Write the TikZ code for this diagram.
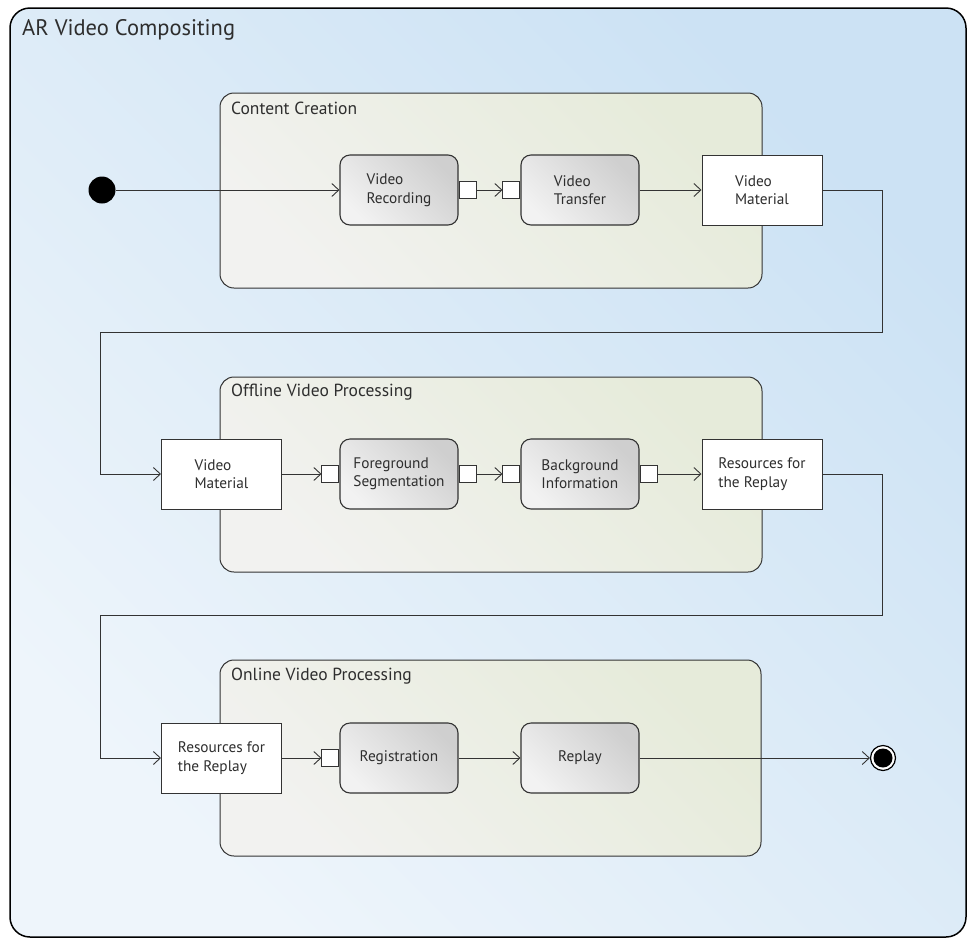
\documentclass[tikz,border=0pt]{standalone}
\usepackage{fontspec}
\setmainfont{PT Sans}
\usetikzlibrary{arrows.meta,positioning}
\definecolor{txt}{HTML}{2E2E2E}
\definecolor{frameA}{HTML}{CCE2F4}
\definecolor{frameB}{HTML}{EEF5FB}
\definecolor{grpA}{HTML}{E6EBDA}
\definecolor{grpB}{HTML}{F2F2F0}
\definecolor{actA}{HTML}{CFCFCF}
\definecolor{actB}{HTML}{F2F2F2}
\definecolor{ln}{HTML}{333333}
\begin{document}
\begin{tikzpicture}[x=1pt,y=-1pt,
  every node/.style={text=txt},
  frame/.style={draw=black, line width=1.5pt, rounded corners=20pt,
    top color=frameA, bottom color=frameB, shading angle=-45},
  grp/.style={draw=ln, line width=1pt, rounded corners=14pt,
    top color=grpA, bottom color=grpB, shading angle=-45},
  action/.style={draw=ln, line width=1.1pt, rounded corners=10pt,
    top color=actA, bottom color=actB, shading angle=-45,
    minimum width=118pt, minimum height=70pt, inner sep=0pt,
    align=left, font=\fontsize{15.3}{18.5}\selectfont},
  obj/.style={draw=ln, line width=1pt, fill=white,
    minimum width=120pt, minimum height=70pt, inner sep=0pt,
    align=left, font=\fontsize{15.3}{18.5}\selectfont},
  pin/.style={draw=ln, line width=1pt, fill=white, minimum width=17pt,
    minimum height=17pt, inner sep=0pt},
  grplabel/.style={anchor=west, inner sep=0pt, font=\fontsize{17.5}{20}\selectfont},
  arr/.style={draw=ln, line width=0.9pt, -{Straight Barb[length=7pt,width=13pt,line width=0.9pt]}},
]
\useasboundingbox (0,0) rectangle (967,938);
% outer frame
\path[frame] (10,8) rectangle (966,937);
\node[anchor=west, inner sep=0pt, font=\fontsize{22.5}{26}\selectfont] (title) at (22,30) {AR Video Compositing};
% groups
\path[grp] (220,93) rectangle (762,288);
\node[grplabel] (g1) at (231,108) {Content Creation};
\path[grp] (220,377) rectangle (762,572);
\node[grplabel] (g2) at (231,392) {Offline Video Processing};
\path[grp] (220,660) rectangle (761,856);
\node[grplabel] (g3) at (231,676) {Online Video Processing};

% initial node
\node[circle, fill=black, minimum size=27pt, inner sep=0pt] (init) at (102,190) {};

% row 1
\node[action] (vr) at (399,190) {Video\\Recording};
\node[pin, anchor=west] (vrout) at (vr.east) {};
\node[action] (vt) at (580,190) {Video\\Transfer};
\node[pin, anchor=east] (vtin) at (vt.west) {};
\node[obj] (vm1) at (762,190) {Video\\Material};

% row 2
\node[obj] (vm2) at (221.5,474) {Video\\Material};
\node[action] (fs) at (399,474) {Foreground\\Segmentation};
\node[pin, anchor=east] (fsin) at (fs.west) {};
\node[pin, anchor=west] (fsout) at (fs.east) {};
\node[action] (bi) at (580,474) {Background\\Information};
\node[pin, anchor=east] (biin) at (bi.west) {};
\node[pin, anchor=west] (biout) at (bi.east) {};
\node[obj] (rr1) at (762,474) {Resources for\\the Replay};

% row 3
\node[obj] (rr2) at (221.5,758) {Resources for\\the Replay};
\node[action] (reg) at (399,758) {Registration};
\node[pin, anchor=east] (regin) at (reg.west) {};
\node[action] (rep) at (580,758) {Replay};
\node[circle, draw=black, line width=1.2pt, fill=white, minimum size=25pt, inner sep=0pt] (fin) at (883,758) {};
\fill[black] (fin.center) circle (9.5pt);

% bend coordinates
\coordinate (r1) at (882,332);
\coordinate (l1) at (100,332);
\coordinate (r2) at (882,615);
\coordinate (l2) at (100,615);

% connectors
\draw[arr] (init) -- (vr);
\draw[arr] (vrout) -- (vtin);
\draw[arr] (vt) -- (vm1);
\draw[arr] (vm1.east) -| (r1) -- (l1) |- (vm2.west);
\draw[arr] (vm2) -- (fsin);
\draw[arr] (fsout) -- (biin);
\draw[arr] (biout) -- (rr1);
\draw[arr] (rr1.east) -| (r2) -- (l2) |- (rr2.west);
\draw[arr] (rr2) -- (regin);
\draw[arr] (reg) -- (rep);
\draw[arr] (rep) -- (fin);
\end{tikzpicture}
\end{document}
